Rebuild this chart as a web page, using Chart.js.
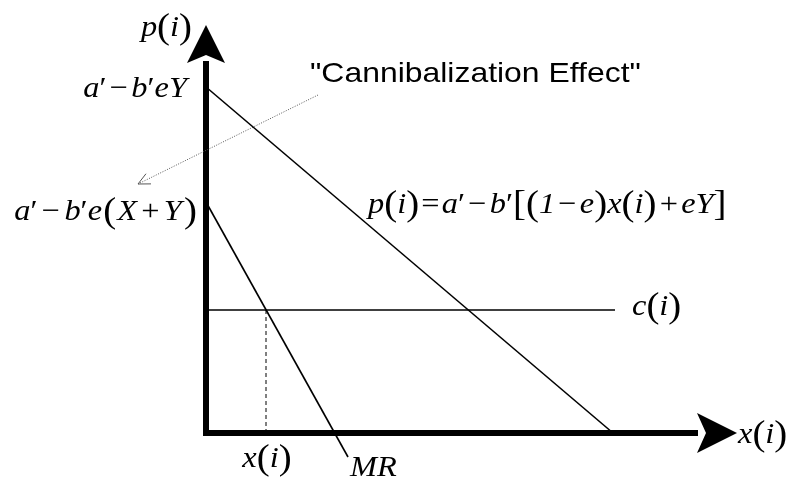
<!DOCTYPE html>
<html>
<head>
<meta charset="utf-8">
<script src="https://cdn.jsdelivr.net/npm/chart.js@4/dist/chart.umd.min.js"></script>
<style>
  html, body { margin: 0; padding: 0; background: #fff; }
  canvas { display: block; }
</style>
</head>
<body>
<canvas id="chart" width="788" height="483"></canvas>
<script>
// diagram values (1 unit ~ 40px)
const demandX = [0, 10.175];
const demandY = [8.65, 0];
const mrX = [0, 3.55];
const mrY = [5.775, -0.6];
const costX = [0, 10.225];
const costY = [3.075, 3.075];
const optX = [1.5, 1.5];
const optY = [0, 3.075];
const cannibalX = [2.8, -1.7];
const cannibalY = [8.45, 6.225];
const xAxisX = [-0.075, 12.3];
const xAxisY = [0, 0];
const yAxisX = [0, 0];
const yAxisY = [-0.075, 9.3];
const xAxisTip = [13.275, 0];
const yAxisTip = [0, 10.2];

const pts = (xs, ys) => xs.map((x, i) => ({ x, y: ys[i] }));

const SERIF = '"Liberation Serif", "Times New Roman", serif';
const SANS = '"Liberation Sans", Arial, sans-serif';

// run: [text, italic] or [text, 0, 'big'] for enlarged brackets, or a number = gap in px
function drawRuns(ctx, runs, x, y, align, size, sx) {
  const fontFor = r => (r[1] ? 'italic ' : '') + (r[2] ? size * 1.2 : size) + 'px ' + SERIF;
  let w = 0;
  runs.forEach(r => {
    if (typeof r === 'number') { w += r; return; }
    ctx.font = fontFor(r);
    w += ctx.measureText(r[0]).width;
  });
  ctx.save();
  ctx.translate(x, y);
  ctx.scale(sx, 1);
  ctx.fillStyle = '#000';
  ctx.textBaseline = 'alphabetic';
  ctx.textAlign = 'left';
  let cx = align === 'right' ? -w : align === 'center' ? -w / 2 : 0;
  runs.forEach(r => {
    if (typeof r === 'number') { cx += r; return; }
    ctx.font = fontFor(r);
    ctx.fillText(r[0], cx, r[2] ? size * 0.07 : 0);
    cx += ctx.measureText(r[0]).width;
  });
  ctx.restore();
}

function stealth(ctx, tx, ty, dx, dy, len, half, notch) {
  const px = -dy, py = dx;
  const bx = tx - dx * len, by = ty - dy * len;
  ctx.beginPath();
  ctx.moveTo(tx, ty);
  ctx.lineTo(bx + px * half, by + py * half);
  ctx.lineTo(tx - dx * (len - notch), ty - dy * (len - notch));
  ctx.lineTo(bx - px * half, by - py * half);
  ctx.closePath();
  ctx.fill();
}

const L = ['(', 0, 1], R = [')', 0, 1];
const pI = [['p', 1], L, ['i', 1], R];
const xI = [['x', 1], L, ['i', 1], R];
const cI = [['c', 1], L, ['i', 1], R];
const mrLabel = [['MR', 1]];
const interceptTop = [['a', 1], ['′', 0], 3, ['−', 0], 3, ['b', 1], ['′', 0], ['eY', 1]];
const interceptMR = [['a', 1], ['′', 0], 4, ['−', 0], 4, ['b', 1], ['′', 0], ['e', 1], 1, L, 1, ['X', 1], 4, ['+', 0], 4, ['Y', 1], 2, R];
const formula = [['p', 1], L, ['i', 1], R, 2, ['=', 0], 2, ['a', 1], ['′', 0], 3, ['−', 0], 3,
  ['b', 1], ['′', 0], ['[', 0, 1], L, ['1', 1], 3, ['−', 0], 3, ['e', 1], R, ['x', 1], L, ['i', 1], R,
  3, ['+', 0], 3, ['eY', 1], [']', 0, 1]];

const annotations = {
  id: 'annotations',
  afterDatasetsDraw(chart) {
    const { ctx, scales: { x, y } } = chart;
    const X = v => x.getPixelForValue(v);
    const Y = v => y.getPixelForValue(v);
    ctx.save();
    ctx.fillStyle = '#000';
    // axis arrow heads
    stealth(ctx, X(yAxisTip[0]), Y(yAxisTip[1]), 0, -1, 38, 19, 8);
    stealth(ctx, X(xAxisTip[0]), Y(xAxisTip[1]), 1, 0, 40, 20, 9);

    // open head on the cannibalization pointer
    const sx0 = X(cannibalX[0]), sy0 = Y(cannibalY[0]);
    const ex = X(cannibalX[1]), ey = Y(cannibalY[1]);
    const a = Math.atan2(ey - sy0, ex - sx0);
    ctx.strokeStyle = '#555';
    ctx.lineWidth = 1;
    ctx.beginPath();
    [-0.45, 0.45].forEach(d => {
      ctx.moveTo(ex, ey);
      ctx.lineTo(ex - 13 * Math.cos(a + d), ey - 13 * Math.sin(a + d));
    });
    ctx.stroke();

    const S = 30, SX = 1.08;
    drawRuns(ctx, pI, X(yAxisTip[0]) - 14, Y(yAxisTip[1]) + 11, 'right', S, SX);
    drawRuns(ctx, interceptTop, X(0) - 19, Y(demandY[0]) + 10, 'right', S, SX);
    drawRuns(ctx, interceptMR, X(0) - 9, Y(mrY[0]) + 18, 'right', S, SX);
    drawRuns(ctx, formula, 368, 213, 'left', S, SX);
    drawRuns(ctx, cI, X(costX[1]) + 17, Y(costY[1]) + 5, 'left', S, SX);
    drawRuns(ctx, xI, X(xAxisTip[0]) + 1, Y(xAxisTip[1]) + 10, 'left', S, SX);
    drawRuns(ctx, xI, X(optX[0]) + 1, Y(0) + 34, 'center', S, SX);
    drawRuns(ctx, mrLabel, X(mrX[1]) + 2, Y(mrY[1]) + 19, 'left', S, SX);

    ctx.save();
    ctx.translate(sx0 - 8, sy0 - 13);
    ctx.scale(1.14, 1);
    ctx.font = '28px ' + SANS;
    ctx.fillStyle = '#000';
    ctx.fillText('"Cannibalization Effect"', 0, 0);
    ctx.restore();
    ctx.restore();
  }
};

const line = (data, opts) => Object.assign({
  data, showLine: true, pointRadius: 0, borderColor: '#000', borderWidth: 1.6, fill: false
}, opts);

new Chart(document.getElementById('chart'), {
  type: 'scatter',
  data: {
    datasets: [
      line(pts(costX, costY), { borderWidth: 1.4 }),
      line(pts(optX, optY), { borderWidth: 1, borderDash: [4, 3] }),
      line(pts(demandX, demandY)),
      line(pts(mrX, mrY)),
      line(pts(cannibalX, cannibalY), { borderColor: '#555', borderWidth: 1, borderDash: [1, 1.5] }),
      line(pts(xAxisX, xAxisY), { borderWidth: 6, borderCapStyle: 'butt' }),
      line(pts(yAxisX, yAxisY), { borderWidth: 6, borderCapStyle: 'butt' })
    ]
  },
  options: {
    responsive: false,
    animation: false,
    layout: { padding: 0 },
    plugins: { legend: { display: false }, tooltip: { enabled: false } },
    scales: {
      x: { type: 'linear', display: false, min: -5.15, max: 14.55 },
      y: { type: 'linear', display: false, min: -1.25, max: 10.825 }
    }
  },
  plugins: [annotations]
});
</script>
</body>
</html>
